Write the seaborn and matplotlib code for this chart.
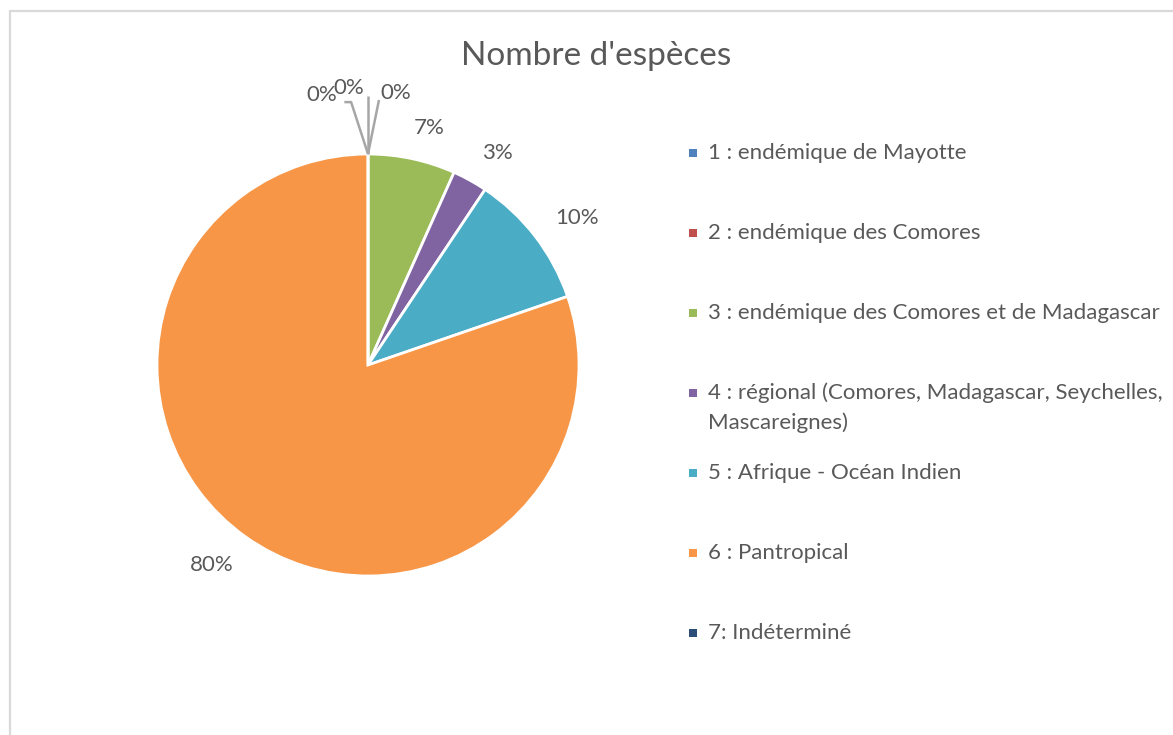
import matplotlib
matplotlib.use("Agg")
import matplotlib.pyplot as plt
from matplotlib.patches import Rectangle
import numpy as np
import seaborn as sns

# ---- data ----
categories = [
    "1 : endémique de Mayotte",
    "2 : endémique des Comores",
    "3 : endémique des Comores et de Madagascar",
    "4 : régional (Comores, Madagascar, Seychelles,\nMascareignes)",
    "5 : Afrique - Océan Indien",
    "6 : Pantropical",
    "7: Indéterminé",
]
counts = [0, 0, 20, 8, 31, 240, 0]
colors = ["#4F81BD", "#C0504D", "#9BBB59", "#8064A2", "#4BACC6", "#F79646", "#2C4D75"]
title = "Nombre d'espèces"

sns.set_theme(style="white")
plt.rcParams["font.family"] = ["Lato", "DejaVu Sans"]
TXT = "#595959"
FS = 16

W, H = 1173, 735
fig = plt.figure(figsize=(W / 100, H / 100), dpi=100)
fig.patch.set_facecolor("white")

# chart border
fig.add_artist(Rectangle((10 / W, -0.1), 1.2, 1.1 - 11 / H, transform=fig.transFigure,
                         fill=False, edgecolor="#D9D9D9", linewidth=1.6))

cx, cy, R = 368, 365, 211
ax = fig.add_axes([(cx - R) / W, (H - cy - R) / H, 2 * R / W, 2 * R / H])
wedges, _ = ax.pie(counts, colors=colors, startangle=90, counterclock=False,
                   wedgeprops=dict(edgecolor="white", linewidth=2))
ax.set_xlim(-1, 1)
ax.set_ylim(-1, 1)
ax.set_aspect("equal")
ax.axis("off")

total = sum(counts)
pcts = [f"{round(100 * c / total):.0f}%" for c in counts]

# labels for large slices: placed outside with a constant gap from the rim
gap = 22 / R
half_h = 9 / R
for w, p, c in zip(wedges, pcts, counts):
    if c == 0:
        continue
    mid = np.deg2rad((w.theta1 + w.theta2) / 2 - 2.5)
    half_w = (len(p) * 7.2) / R
    r = 1.0 + gap + abs(np.cos(mid)) * half_w + abs(np.sin(mid)) * half_h
    ax.text(r * np.cos(mid), r * np.sin(mid), p, ha="center", va="center",
            fontsize=FS, color=TXT, clip_on=False)

# labels for empty slices with leader lines
small_layout = {
    6: dict(text=(-0.218, 1.28), path=[(-0.112, 1.246), (-0.08, 1.246)]),
    0: dict(text=(-0.09, 1.313), path=[(0.0, 1.275)]),
    1: dict(text=(0.133, 1.29), path=[(0.052, 1.256)]),
}
for i, lay in small_layout.items():
    w = wedges[i]
    mid = np.deg2rad((w.theta1 + w.theta2) / 2)
    rim = (np.cos(mid), np.sin(mid))
    pts = lay["path"] + [rim]
    xs, ys = zip(*pts)
    ax.plot(xs, ys, color="#A6A6A6", linewidth=1.8, clip_on=False, solid_capstyle="butt")
    ax.text(lay["text"][0], lay["text"][1], pcts[i], ha="center", va="center",
            fontsize=FS, color=TXT, clip_on=False)

# title
fig.text(596 / W, 1 - 56 / H, title, ha="center", va="center", fontsize=24, color=TXT)

# legend (manual, Excel style)
y0, step = 153, 80
for k, (lab, col) in enumerate(zip(categories, colors)):
    y = y0 + k * step
    fig.add_artist(Rectangle(((693 - 4) / W, 1 - (y + 4) / H), 8 / W, 8 / H,
                             transform=fig.transFigure, facecolor=col, edgecolor="none"))
    for j, ln in enumerate(lab.split("\n")):
        fig.text(708 / W, 1 - (y + j * 30) / H, ln, ha="left", va="center",
                 fontsize=FS, color=TXT)

fig.savefig("out.png", dpi=100, facecolor="white")
